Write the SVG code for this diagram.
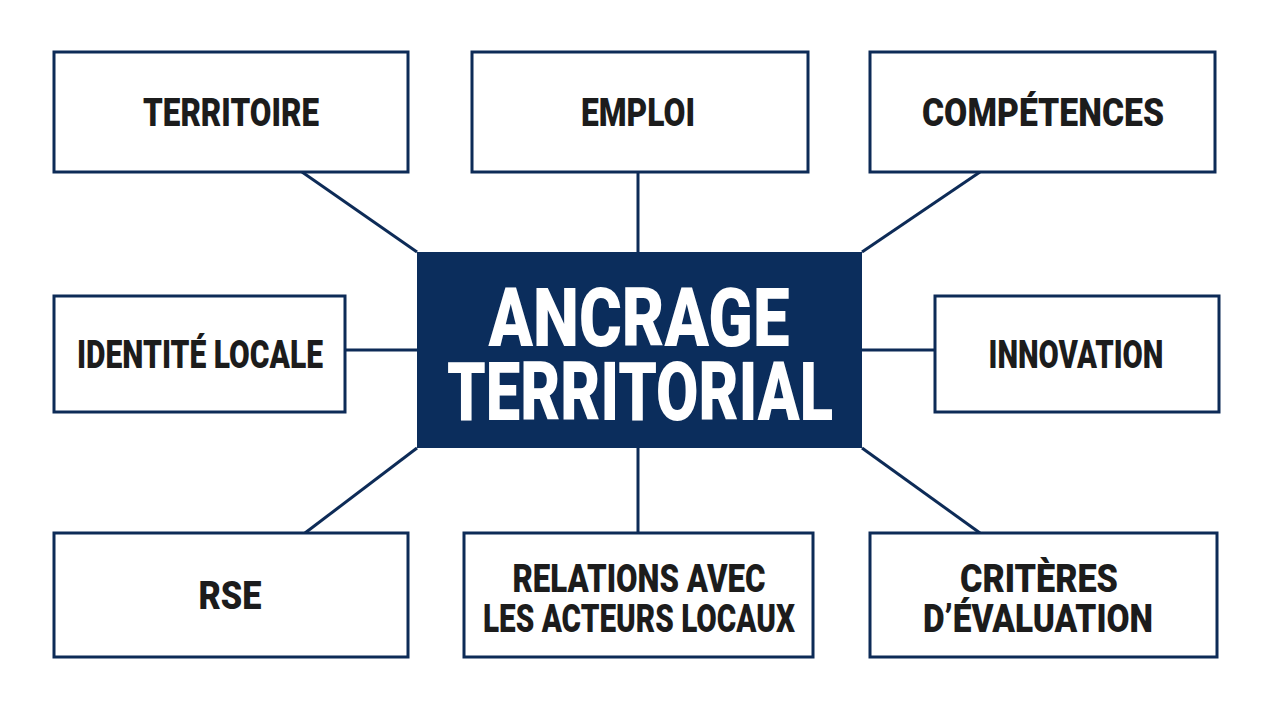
<svg xmlns="http://www.w3.org/2000/svg" width="1280" height="720" viewBox="0 0 1280 720">
<style>
.box{fill:#ffffff;stroke:#0d2b57;stroke-width:3}
.core{fill:#0b2d5c}
.lbl{font-family:Roboto,"Liberation Sans",sans-serif;font-weight:900;font-size:38px;fill:#1c1c1c;text-anchor:middle}
.big{font-family:Roboto,"Liberation Sans",sans-serif;font-weight:900;font-size:82px;fill:#ffffff;text-anchor:middle}
.con{stroke:#0d2b57;stroke-width:3;fill:none}
</style>
<rect width="1280" height="720" fill="#ffffff"/>
<g id="connectors">
<line class="con" x1="302" y1="172" x2="417" y2="252"/>
<line class="con" x1="638" y1="172" x2="638" y2="252"/>
<line class="con" x1="980" y1="172" x2="862" y2="252"/>
<line class="con" x1="345" y1="350" x2="417" y2="350"/>
<line class="con" x1="862" y1="350" x2="935" y2="350"/>
<line class="con" x1="305" y1="533" x2="417" y2="448"/>
<line class="con" x1="638" y1="448" x2="638" y2="533"/>
<line class="con" x1="862" y1="448" x2="980" y2="533"/>
</g>
<g id="center">
<rect class="core" x="417" y="252" width="445" height="196"/>
<text class="big" x="639" y="346" textLength="301" lengthAdjust="spacingAndGlyphs">ANCRAGE</text>
<text class="big" x="640" y="420" textLength="386" lengthAdjust="spacingAndGlyphs">TERRITORIAL</text>
</g>
<g id="territoire">
<rect class="box" x="54" y="52" width="354" height="120"/>
<text class="lbl" x="231" y="126" textLength="176" lengthAdjust="spacingAndGlyphs">TERRITOIRE</text>
</g>
<g id="emploi">
<rect class="box" x="472" y="52" width="336" height="120"/>
<text class="lbl" x="638" y="126" textLength="114" lengthAdjust="spacingAndGlyphs">EMPLOI</text>
</g>
<g id="competences">
<rect class="box" x="870" y="52" width="345" height="120"/>
<text class="lbl" x="1043" y="126" textLength="242" lengthAdjust="spacingAndGlyphs">COMPÉTENCES</text>
</g>
<g id="identite">
<rect class="box" x="54" y="296" width="291" height="116"/>
<text class="lbl" x="200" y="368" textLength="246" lengthAdjust="spacingAndGlyphs">IDENTITÉ LOCALE</text>
</g>
<g id="innovation">
<rect class="box" x="935" y="296" width="284" height="116"/>
<text class="lbl" x="1076" y="368" textLength="175" lengthAdjust="spacingAndGlyphs">INNOVATION</text>
</g>
<g id="rse">
<rect class="box" x="54" y="533" width="354" height="124"/>
<text class="lbl" x="230" y="609" textLength="63" lengthAdjust="spacingAndGlyphs">RSE</text>
</g>
<g id="relations">
<rect class="box" x="464" y="533" width="349" height="124"/>
<text class="lbl" x="639" y="592" textLength="253" lengthAdjust="spacingAndGlyphs">RELATIONS AVEC</text>
<text class="lbl" x="639" y="632" textLength="312" lengthAdjust="spacingAndGlyphs">LES ACTEURS LOCAUX</text>
</g>
<g id="criteres">
<rect class="box" x="870" y="533" width="347" height="124"/>
<text class="lbl" x="1039" y="592" textLength="158" lengthAdjust="spacingAndGlyphs">CRITÈRES</text>
<text class="lbl" x="1038" y="632" textLength="230" lengthAdjust="spacingAndGlyphs">D’ÉVALUATION</text>
</g>
</svg>
